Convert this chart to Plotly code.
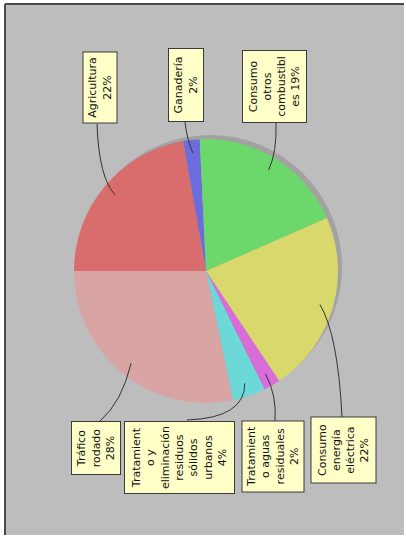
import math
import plotly.graph_objects as go

# ---- data ----
categories = [
    "Agricultura",
    "Ganadería",
    "Consumo otros combustibles",
    "Consumo energía eléctrica",
    "Tratamiento aguas residuales",
    "Tratamiento y eliminación residuos sólidos urbanos",
    "Tráfico rodado",
]
values = [22, 2, 19, 22, 2, 4, 28]
label_texts = [
    "Agricultura<br>22%",
    "Ganadería<br>2%",
    "Consumo<br>otros<br>combustibl<br>es 19%",
    "Consumo<br>energía<br>eléctrica<br>22%",
    "Tratamient<br>o aguas<br>residuales<br>2%",
    "Tratamient<br>o y<br>eliminación<br>residuos<br>sólidos<br>urbanos<br>4%",
    "Tráfico<br>rodado<br>28%",
]
colors = ["#d96c6c", "#6c6cdc", "#6cd86c", "#d8d86c", "#d86cd8", "#6cd8d8", "#d8a4a4"]

# ---- layout helpers (pixel -> paper) ----
W, H = 406, 537
def px(x):
    return x / W
def py(y):
    return 1 - y / H

cx, cy, R = 206, 271, 132

# label boxes: (left, top, right, bottom) in pixels
boxes = [
    (82, 52, 117, 124),
    (168, 48, 204, 122),
    (242, 50, 307, 123),
    (310, 417, 376, 484),
    (241, 421, 304, 493),
    (124, 421, 235, 494),
    (71, 421, 121, 475),
]
# leader start points and curve controls
starts = [(97, 124), (185, 122), (276, 123), (342, 417), (275, 421), (187, 420), (100, 421)]
ctrls = [(99, 178), (187, 140), (277, 152), (338, 335), (277, 395), (245, 418), (122, 402)]

fig = go.Figure()
fig.add_trace(go.Pie(
    labels=categories, values=values, sort=False, direction="clockwise",
    rotation=-90, textinfo="none", hoverinfo="label+percent",
    marker=dict(colors=colors, line=dict(width=0)),
    showlegend=False,
    domain=dict(x=[px(cx - R), px(cx + R)], y=[py(cy + R), py(cy - R)]),
))

shapes = []
# gray panel and frame
shapes.append(dict(type="rect", xref="paper", yref="paper", x0=px(5), x1=px(404), y0=py(535), y1=py(4),
                   fillcolor="#bdbdbd", line=dict(width=0), layer="below"))
shapes.append(dict(type="line", xref="paper", yref="paper", x0=px(5), x1=px(404), y0=py(4), y1=py(4),
                   line=dict(color="#4a4a4a", width=2), layer="below"))
shapes.append(dict(type="line", xref="paper", yref="paper", x0=px(5), x1=px(5), y0=py(4), y1=py(535),
                   line=dict(color="#4a4a4a", width=2), layer="below"))
# pie shadow
shapes.append(dict(type="circle", xref="paper", yref="paper",
                   x0=px(cx - R + 4), x1=px(cx + R + 4), y0=py(cy + R - 4), y1=py(cy - R - 4),
                   fillcolor="#a2a2a2", line=dict(width=0), layer="below"))

total = sum(values)
angle = 180.0
annotations = []
for i, v in enumerate(values):
    span = v / total * 360.0
    mid = angle - span / 2
    angle -= span
    ex = cx + 0.9 * R * math.cos(math.radians(mid))
    ey = cy - 0.9 * R * math.sin(math.radians(mid))
    sx, sy = starts[i]
    qx, qy = ctrls[i]
    path = "M {:.4f},{:.4f} Q {:.4f},{:.4f} {:.4f},{:.4f}".format(px(sx), py(sy), px(qx), py(qy), px(ex), py(ey))
    shapes.append(dict(type="path", xref="paper", yref="paper", path=path,
                       line=dict(color="#333333", width=1)))
    l, t, r, b = boxes[i]
    annotations.append(dict(
        xref="paper", yref="paper", x=px((l + r) / 2), y=py((t + b) / 2),
        xanchor="center", yanchor="middle", text=label_texts[i], showarrow=False,
        textangle=-90, align="center",
        font=dict(family="DejaVu Sans", size=11, color="#111111"),
        bgcolor="#ffffc8", bordercolor="#3a3a3a", borderwidth=1, borderpad=1,
        width=(b - t) - 4, height=(r - l) - 4,
    ))

fig.update_layout(
    width=W, height=H, margin=dict(l=0, r=0, t=0, b=0),
    paper_bgcolor="white", plot_bgcolor="rgba(0,0,0,0)",
    shapes=shapes, annotations=annotations,
)
fig.write_html("out.html", config={"displayModeBar": False},
               post_script="document.body.style.margin='0';document.body.style.overflow='hidden';")
